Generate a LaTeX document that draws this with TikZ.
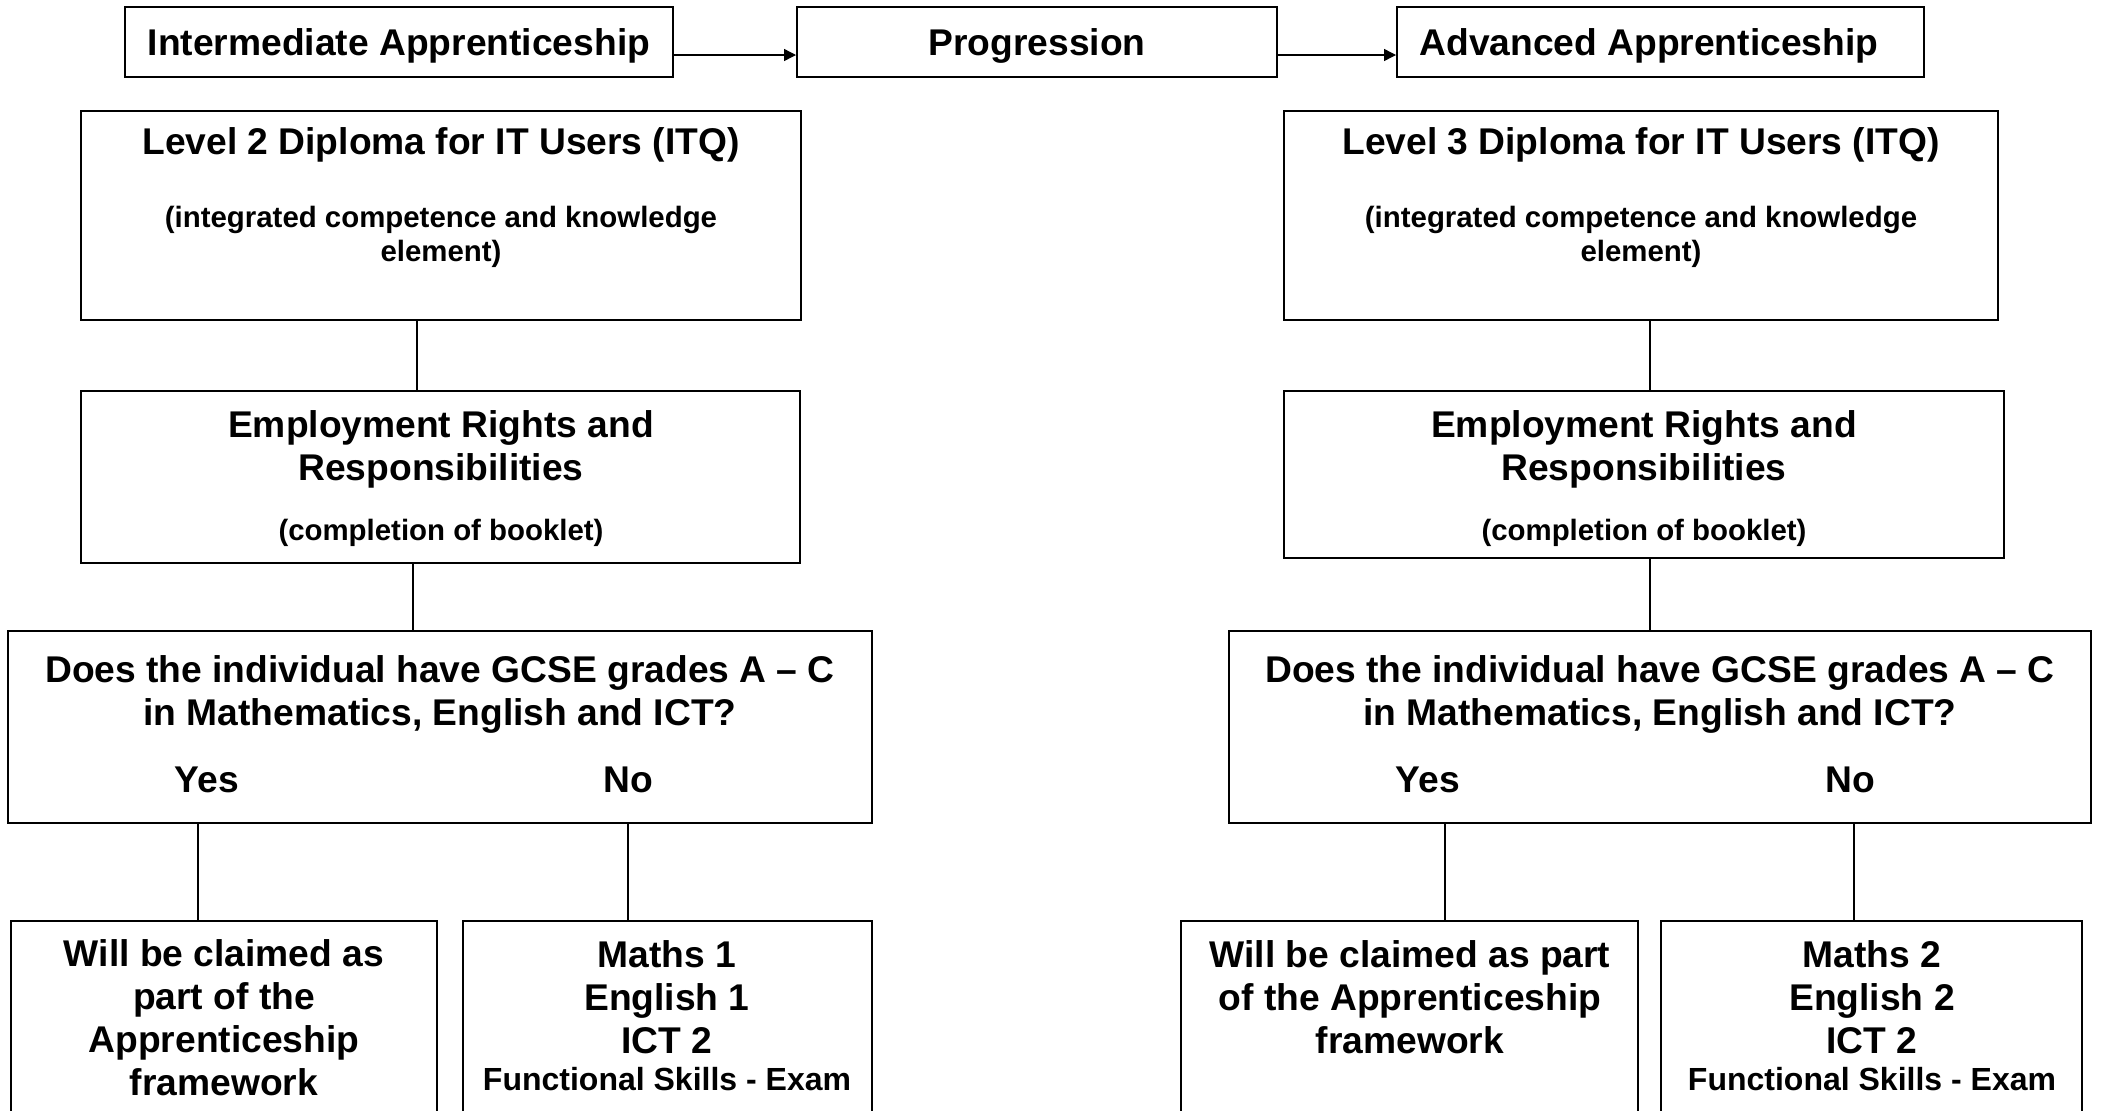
\documentclass[tikz,border=0pt]{standalone}
\usepackage{fontspec}
\setmainfont{Liberation Sans}
\usetikzlibrary{fit,arrows.meta}
\begin{document}
\begin{tikzpicture}[x=0.5pt,y=-0.5pt,
  box/.style={draw=black,line width=1pt,inner sep=0pt},
  conn/.style={draw=black,line width=0.6pt},
  arr/.style={draw=black,line width=0.7pt,-{Triangle[length=6pt,width=6pt]}},
  big/.style={font=\fontsize{18.6}{21.5}\selectfont\bfseries,align=center,inner sep=0pt},
  small/.style={font=\fontsize{14.7}{17}\selectfont\bfseries,align=center,inner sep=0pt},
  mid/.style={font=\fontsize{16}{19}\selectfont\bfseries,align=center,inner sep=0pt}]
\path[use as bounding box] (0,0) rectangle (2123,1110);
\clip (0,0) rectangle (2123,1110);
% top row
\node[box,fit={(125,7) (673,77)}] (inter) {};
\node[box,fit={(797,7) (1277,77)}] (prog) {};
\node[box,fit={(1397,7) (1924,77)}] (adv) {};
\node[big] (tinter) at (399,46) {Intermediate Apprenticeship};
\node[big] (tprog) at (1037,46) {Progression};
\node[big,anchor=west] (tadv) at (1419,46) {Advanced Apprenticeship};
\coordinate (ay) at (0,55);
\draw[arr] (inter.east |- ay) -- (prog.west |- ay);
\draw[arr] (prog.east |- ay) -- (adv.west |- ay);
% left column
\node[box,fit={(81,111) (801,320)}] (l2) {};
\node[big] (tl2) at (441,145) {Level 2 Diploma for IT Users (ITQ)};
\node[small] (sl2) at (441,237) {(integrated competence and knowledge\\element)};
\node[box,fit={(81,391) (800,563)}] (empL) {};
\node[big] (tempL) at (441,449) {Employment Rights and\\Responsibilities};
\node[small] (sempL) at (441,533) {(completion of booklet)};
\node[box,fit={(8,631) (872,823)}] (gcL) {};
\node[big] (tgcL) at (440,694) {Does the individual have GCSE grades A -- C\\in Mathematics, English and ICT?};
\node[big] (yesL) at (207,780) {Yes};
\node[big] (noL) at (628,780) {No};
\node[box,fit={(11,921) (437,1130)}] (clL) {};
\node[big] (tclL) at (224,1018) {Will be claimed as\\part of the\\Apprenticeship\\framework};
\node[box,fit={(463,921) (872,1130)}] (fsL) {};
\node[big] (tfsL) at (667,997) {Maths 1\\English 1\\ICT 2};
\node[mid] (efsL) at (667,1079) {Functional Skills - Exam};
\coordinate (c1) at (417,0);
\coordinate (c2) at (413,0);
\coordinate (c3) at (198,0);
\coordinate (c4) at (628,0);
\draw[conn] (c1 |- l2.south) -- (c1 |- empL.north);
\draw[conn] (c2 |- empL.south) -- (c2 |- gcL.north);
\draw[conn] (c3 |- gcL.south) -- (c3 |- clL.north);
\draw[conn] (c4 |- gcL.south) -- (c4 |- fsL.north);
% right column
\node[box,fit={(1284,111) (1998,320)}] (l3) {};
\node[big] (tl3) at (1641,145) {Level 3 Diploma for IT Users (ITQ)};
\node[small] (sl3) at (1641,237) {(integrated competence and knowledge\\element)};
\node[box,fit={(1284,391) (2004,558)}] (empR) {};
\node[big] (tempR) at (1644,449) {Employment Rights and\\Responsibilities};
\node[small] (sempR) at (1644,533) {(completion of booklet)};
\node[box,fit={(1229,631) (2091,823)}] (gcR) {};
\node[big] (tgcR) at (1660,694) {Does the individual have GCSE grades A -- C\\in Mathematics, English and ICT?};
\node[big] (yesR) at (1428,780) {Yes};
\node[big] (noR) at (1850,780) {No};
\node[box,fit={(1181,921) (1638,1130)}] (clR) {};
\node[big] (tclR) at (1410,997) {Will be claimed as part\\of the Apprenticeship\\framework};
\node[box,fit={(1661,921) (2082,1130)}] (fsR) {};
\node[big] (tfsR) at (1872,997) {Maths 2\\English 2\\ICT 2};
\node[mid] (efsR) at (1872,1079) {Functional Skills - Exam};
\coordinate (d1) at (1650,0);
\coordinate (d3) at (1445,0);
\coordinate (d4) at (1854,0);
\draw[conn] (d1 |- l3.south) -- (d1 |- empR.north);
\draw[conn] (d1 |- empR.south) -- (d1 |- gcR.north);
\draw[conn] (d3 |- gcR.south) -- (d3 |- clR.north);
\draw[conn] (d4 |- gcR.south) -- (d4 |- fsR.north);
\end{tikzpicture}
\end{document}
